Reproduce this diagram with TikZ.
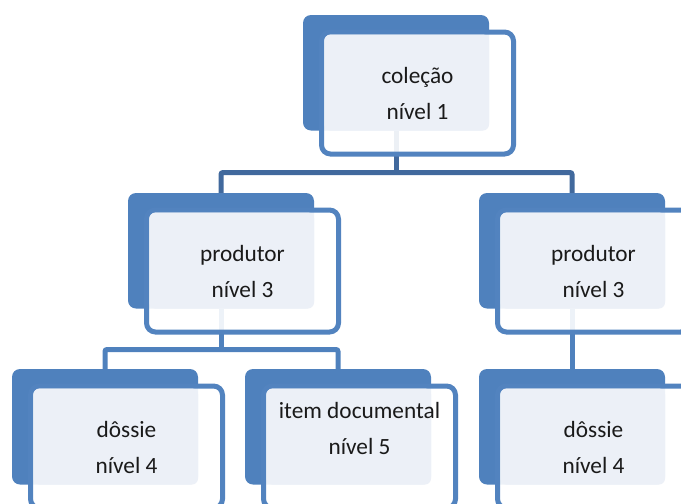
\documentclass[tikz,border=0pt]{standalone}
\usepackage{fontspec}
\setmainfont{Carlito}
\usetikzlibrary{calc,backgrounds}

\definecolor{boxblue}{HTML}{4F81BD}
\definecolor{rimblue}{HTML}{5283BF}
\definecolor{paleblue}{HTML}{ECF0F7}
\definecolor{linkdark}{HTML}{41699D}
\definecolor{inktext}{HTML}{1A1A1A}

\tikzset{
  backbox/.style={fill=boxblue, draw=none, rounded corners=8pt,
    minimum width=186pt, minimum height=115.5pt,
    inner sep=0pt, outer sep=0pt, anchor=north west},
  rimbox/.style={draw=rimblue, line width=5pt, fill=white, fill opacity=0.9,
    rounded corners=9pt, minimum width=192pt, minimum height=122pt,
    inner sep=0pt, outer sep=0pt, anchor=north west},
  facebox/.style={fill=paleblue, draw=none, rounded corners=6pt,
    minimum width=164.5pt, minimum height=96pt,
    inner sep=0pt, outer sep=0pt, anchor=north west},
  boxtext/.style={text=inktext, font=\fontsize{23.3}{36}\selectfont,
    align=center, inner sep=0pt},
  link/.style={draw=boxblue, line width=5pt, rounded corners=2pt},
  toplink/.style={link, draw=linkdark},
}

% one hierarchy box: solid back plate, outlined frame, pale face
\newcommand\tierbox[3]{%
  \node[backbox] (#1b) at (#2,#3) {};
  \node[rimbox]  (#1r) at (#2+18.5,#3+17) {};
  \node[facebox] (#1f) at (#2+21.5,#3+19.5) {};
}

\begin{document}
\begin{tikzpicture}[x=1pt,y=-1pt]
  \useasboundingbox (0,0) rectangle (681,504);
  \clip (0,0) rectangle (681,504);

  \tierbox{u1}{303}{15}
  \tierbox{u2}{128}{193}
  \tierbox{u3}{479}{193}
  \tierbox{u4}{12}{369}
  \tierbox{u5}{245}{369}
  \tierbox{u6}{479}{369}

  \node[boxtext] (t1) at (u1r.center) {coleção\\nível 1};
  \node[boxtext] (t2) at (u2r.center) {produtor\\nível 3};
  \node[boxtext] (t3) at (u3r.center) {produtor\\nível 3};
  \node[boxtext] (t4) at (u4r.center) {dôssie\\nível 4};
  \node[boxtext] (t5) at ($(u5r.center)+(0,-18.5)$) {item documental\\nível 5};
  \node[boxtext] (t6) at (u6r.center) {dôssie\\nível 4};

  % connectors behind the boxes
  \begin{scope}[on background layer]
    \coordinate (bar1) at ($(u1b.south)+(0,42)$);
    \draw[toplink] (u1b.south) -- (bar1);
    \draw[toplink] (u2b.north) |- (bar1) -| (u3b.north);

    \coordinate (bar2) at ($(u2b.south)+(0,41)$);
    \draw[link] (u2b.south) -- (bar2);
    \draw[link] (u4b.north) |- (bar2) -| (u5b.north);

    \draw[link] (u3b.south) -- (u6b.north);
  \end{scope}
\end{tikzpicture}
\end{document}
